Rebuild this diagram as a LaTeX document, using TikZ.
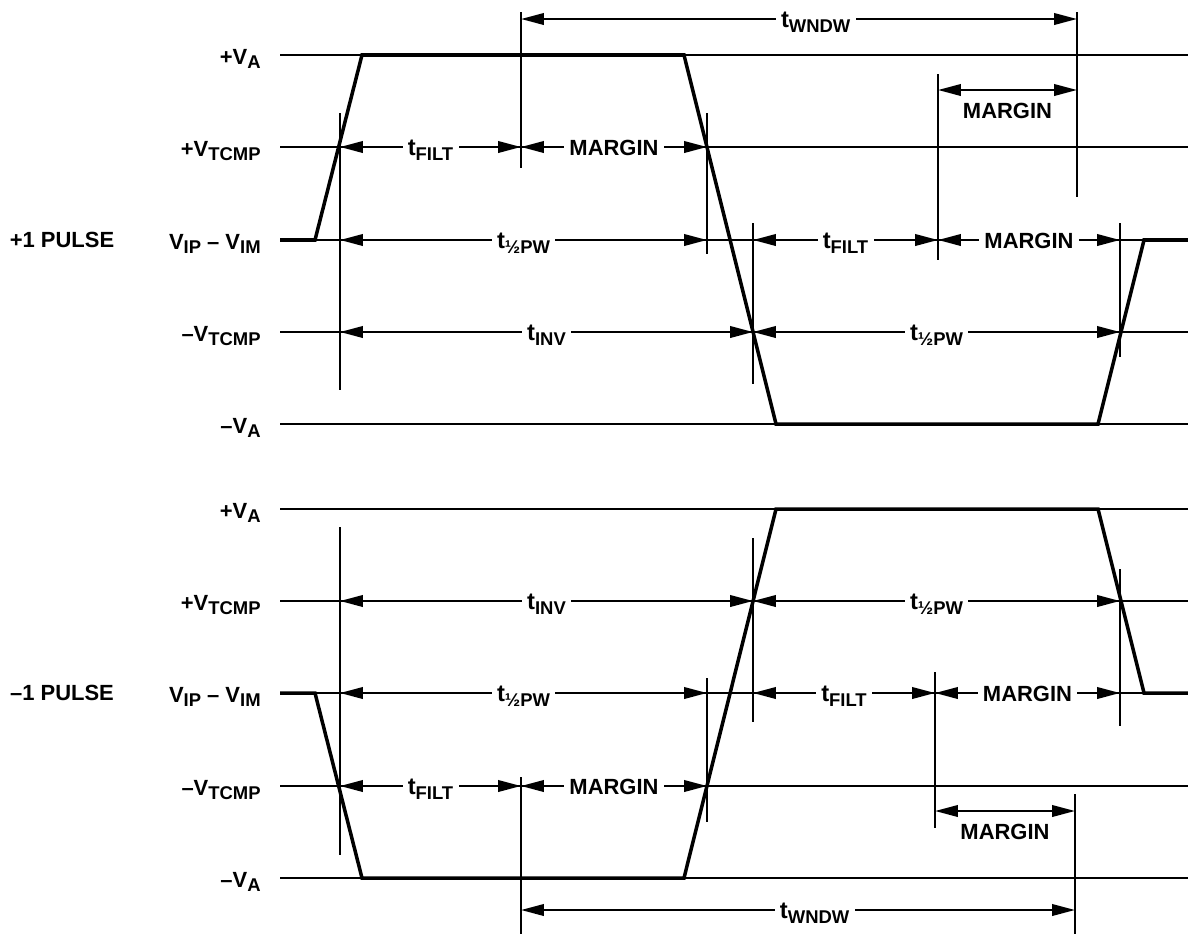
\documentclass[tikz,border=0pt]{standalone}
\usepackage{fontspec}
\setmainfont{Liberation Sans}
\usetikzlibrary{arrows.meta, calc}

\newcommand{\lsub}[1]{\raisebox{-2.8pt}{\fontsize{10.5}{10.5}\selectfont #1}}
\newcommand{\tval}[1]{{\fontsize{13.5}{15}\selectfont t}\lsub{#1}}

\begin{document}
\begin{tikzpicture}[x=0.02cm, y=-0.02cm,
    every node/.style={font=\bfseries\fontsize{12.5}{15}\selectfont},
    levelline/.style={line width=0.75pt},
    guide/.style={line width=0.75pt},
    waveline/.style={line width=2pt, line join=miter},
    dimarrow/.style={line width=1.3pt,
      {Triangle[length=13pt,width=6.5pt]}-{Triangle[length=13pt,width=6.5pt]}},
    dimlabel/.style={fill=white, inner xsep=3pt, inner ysep=1pt, anchor=base, yshift=-5pt},
    levellabel/.style={anchor=base east, inner sep=0pt},
  ]
  \useasboundingbox (0,0) rectangle (1188,934);

  % levels
  \coordinate (rt) at (1188,0);
  \coordinate (tW) at (280,19);
  \coordinate (tA) at (280,55);
  \coordinate (tM) at (280,90);
  \coordinate (tT) at (280,147);
  \coordinate (tI) at (280,240);
  \coordinate (tN) at (280,332);
  \coordinate (tB) at (280,424);
  \coordinate (bA) at (280,509);
  \coordinate (bT) at (280,601);
  \coordinate (bI) at (280,693);
  \coordinate (bN) at (280,786);
  \coordinate (bM) at (280,811);
  \coordinate (bB) at (280,878);
  \coordinate (bW) at (280,910);

  \foreach \c in {tA,tT,tI,tN,tB,bA,bT,bI,bN,bB}
    \draw[levelline] (\c) -- (\c -| rt);

  \foreach \c/\t in {tA/{+V\lsub{A}}, tT/{+V\lsub{TCMP}}, tI/{V\lsub{IP} – V\lsub{IM}},
                     tN/{–V\lsub{TCMP}}, tB/{–V\lsub{A}},
                     bA/{+V\lsub{A}}, bT/{+V\lsub{TCMP}}, bI/{V\lsub{IP} – V\lsub{IM}},
                     bN/{–V\lsub{TCMP}}, bB/{–V\lsub{A}}}
    \node[levellabel] (lab\c) at ($(\c)+(-19,9)$) {\t};

  \node (pulseTop) at (62,240) {+1 PULSE};
  \node (pulseBot) at (62,693) {–1 PULSE};

  % guide lines, +1 pulse
  \coordinate (v1a) at (340,113);  \coordinate (v1b) at (340,390);
  \coordinate (v2a) at (521,12);   \coordinate (v2b) at (521,168);
  \coordinate (v3a) at (707,113);  \coordinate (v3b) at (707,254);
  \coordinate (v4a) at (753,223);  \coordinate (v4b) at (753,384);
  \coordinate (v5a) at (938,74);   \coordinate (v5b) at (938,260);
  \coordinate (v6a) at (1077,12);  \coordinate (v6b) at (1077,197);
  \coordinate (v7a) at (1120,223); \coordinate (v7b) at (1120,357);
  \foreach \v in {v1,v2,v3,v4,v5,v6,v7}
    \draw[guide] (\v a) -- (\v b);

  % guide lines, -1 pulse
  \coordinate (w1a) at (340,527);  \coordinate (w1b) at (340,855);
  \coordinate (w2a) at (521,777);  \coordinate (w2b) at (521,934);
  \coordinate (w3a) at (707,678);  \coordinate (w3b) at (707,822);
  \coordinate (w4a) at (753,538);  \coordinate (w4b) at (753,722);
  \coordinate (w5a) at (935,672);  \coordinate (w5b) at (935,828);
  \coordinate (w6a) at (1075,794); \coordinate (w6b) at (1075,934);
  \coordinate (w7a) at (1120,569); \coordinate (w7b) at (1120,726);
  \foreach \v in {w1,w2,w3,w4,w5,w6,w7}
    \draw[guide] (\v a) -- (\v b);

  % waveforms
  \draw[waveline] (tI) -- (315,240) -- (362,55) -- (684,55) -- (776,424)
    -- (1098,424) -- (1144,240) -- (tI -| rt);
  \draw[waveline] (bI) -- (315,693) -- (362,878) -- (684,878) -- (776,509)
    -- (1098,509) -- (1144,693) -- (bI -| rt);

  % timing, +1 pulse
  \draw[dimarrow] (v2a |- tW) -- (v6a |- tW) node[dimlabel, pos=0.53] {\tval{WNDW}};
  \draw[dimarrow] (v5a |- tM) -- (v6a |- tM) node[midway, below=5pt, inner sep=2pt] (mgnTop) {MARGIN};
  \draw[dimarrow] (v1a |- tT) -- (v2a |- tT) node[dimlabel, midway] {\tval{FILT}};
  \draw[dimarrow] (v2a |- tT) -- (v3a |- tT) node[dimlabel, midway] {MARGIN};
  \draw[dimarrow] (v1a |- tI) -- (v3a |- tI) node[dimlabel, midway] {\tval{½PW}};
  \draw[dimarrow] (v4a |- tI) -- (v5a |- tI) node[dimlabel, midway] {\tval{FILT}};
  \draw[dimarrow] (v5a |- tI) -- (v7a |- tI) node[dimlabel, midway] {MARGIN};
  \draw[dimarrow] (v1a |- tN) -- (v4a |- tN) node[dimlabel, midway] {\tval{INV}};
  \draw[dimarrow] (v4a |- tN) -- (v7a |- tN) node[dimlabel, midway] {\tval{½PW}};

  % timing, -1 pulse
  \draw[dimarrow] (w1a |- bT) -- (w4a |- bT) node[dimlabel, midway] {\tval{INV}};
  \draw[dimarrow] (w4a |- bT) -- (w7a |- bT) node[dimlabel, midway] {\tval{½PW}};
  \draw[dimarrow] (w1a |- bI) -- (w3a |- bI) node[dimlabel, midway] {\tval{½PW}};
  \draw[dimarrow] (w4a |- bI) -- (w5a |- bI) node[dimlabel, midway] {\tval{FILT}};
  \draw[dimarrow] (w5a |- bI) -- (w7a |- bI) node[dimlabel, midway] {MARGIN};
  \draw[dimarrow] (w1a |- bN) -- (w2a |- bN) node[dimlabel, midway] {\tval{FILT}};
  \draw[dimarrow] (w2a |- bN) -- (w3a |- bN) node[dimlabel, midway] {MARGIN};
  \draw[dimarrow] (w5a |- bM) -- (w6a |- bM) node[midway, below=5pt, inner sep=2pt] (mgnBot) {MARGIN};
  \draw[dimarrow] (w2a |- bW) -- (w6a |- bW) node[dimlabel, pos=0.53] {\tval{WNDW}};
\end{tikzpicture}
\end{document}
